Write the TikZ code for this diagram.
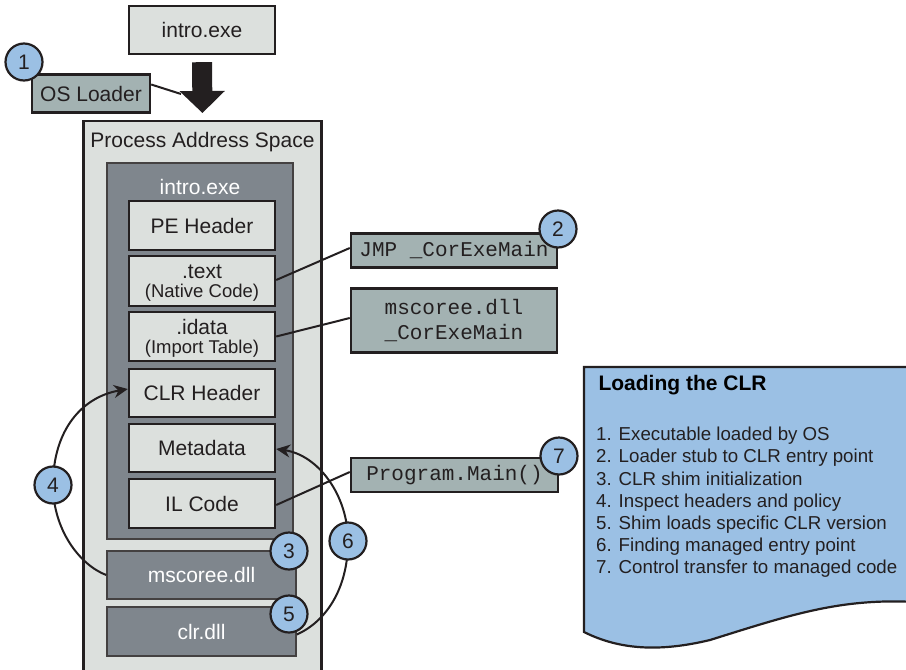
\documentclass[tikz,border=0pt]{standalone}
\usepackage{fontspec}
\setmainfont{Liberation Sans}
\newfontfamily\codefont{Liberation Mono}
\usetikzlibrary{arrows.meta}
\definecolor{lightbox}{RGB}{220,224,221}
\definecolor{tealbox}{RGB}{163,178,178}
\definecolor{darkbox}{RGB}{127,134,141}
\definecolor{bluec}{RGB}{155,192,228}
\definecolor{ink}{RGB}{35,31,32}
\newcommand\subnote{\fontsize{18.5}{20}\selectfont}
\newcommand\twoline[2]{\raisebox{-3pt}[\height][\depth]{\begin{tabular}{@{}c@{}}#1\\[-2pt]{\subnote #2}\end{tabular}}}
\tikzset{
  base/.style={draw=ink, line width=2.4pt, inner sep=0pt, text=ink,
    font=\fontsize{21}{21}\selectfont},
  lbox/.style={base, fill=lightbox, minimum width=146pt},
  tbox/.style={base, fill=tealbox, font=\codefont\fontsize{21}{25}\selectfont},
  dbox/.style={base, fill=darkbox, draw=ink!85, line width=1.6pt, text=white},
  numc/.style={circle, draw=ink, line width=2.2pt, fill=bluec, minimum size=37pt,
    inner sep=0pt, text=ink, font=\fontsize{21}{21}\selectfont},
  link/.style={draw=ink, line width=2pt},
  flow/.style={draw=ink, line width=2pt, -{Stealth[length=14pt,width=13pt]}},
  bigarrow/.style={draw=ink, line width=20pt, -{Triangle[width=44pt,length=22pt]}}
}
\begin{document}
\begin{tikzpicture}[x=1pt,y=-1pt]
\path[use as bounding box] (0,0) rectangle (906,670);
\clip (0,0) rectangle (906,670);

% executable and loader
\node[lbox, minimum height=48pt] (exe) at (202,30) {intro.exe};
\node[tbox, minimum width=118pt, minimum height=38pt,
  font=\fontsize{21}{21}\selectfont] (osl) at (91,93.5) {OS Loader};

% process address space
\node[base, fill=lightbox, minimum width=238pt, minimum height=570pt, anchor=north]
  (pas) at (202.5,120) {};
\node[text=ink, font=\fontsize{21}{21}\selectfont] (pastitle) at (202.5,142) {Process Address Space};

% image of intro.exe
\node[dbox, minimum width=186pt, minimum height=376pt] (img) at (200,351) {};
\node[text=white, font=\fontsize{21}{21}\selectfont] (imgtitle) at (200,187) {intro.exe};

\node[lbox, minimum height=49pt] (pe) at (202,225.5) {PE Header};
\node[lbox, minimum height=50pt] (txt) at (202,281) {\twoline{.text}{(Native Code)}};
\node[lbox, minimum height=49pt] (idata) at (202,336.5) {\twoline{.idata}{(Import Table)}};
\node[lbox, minimum height=48pt] (clrh) at (202,393) {CLR Header};
\node[lbox, minimum height=48pt] (meta) at (202,448) {Metadata};
\node[lbox, minimum height=49pt] (il) at (202,503.5) {IL Code};

% runtime modules
\node[dbox, minimum width=189pt, minimum height=48pt] (msc) at (201.5,575) {mscoree.dll};
\node[dbox, minimum width=189pt, minimum height=49pt] (clrdll) at (201.5,631.5) {clr.dll};

% stubs on the right
\node[tbox, minimum width=206pt, minimum height=34pt] (jmp) at (454,250.5) {JMP \_CorExeMain};
\node[tbox, minimum width=206pt, minimum height=64pt, align=center] (imp) at (454,320.5)
  {mscoree.dll\\\_CorExeMain};
\node[tbox, minimum width=207pt, minimum height=34pt] (pm) at (454.5,475) {Program.Main()};

% load arrow
\coordinate (arrowmid) at (181,94);
\draw[bigarrow, shorten <=7pt, shorten >=7pt] (exe.south) -- (pas.north);
\draw[link] ([yshift=9pt]osl.east) -- (arrowmid);

% connectors
\draw[link] ([yshift=1pt]txt.east) -- ([yshift=2.5pt]jmp.west);
\draw[link] (idata.east) -- ([yshift=2.5pt]imp.west);
\draw[link] ([yshift=-1.5pt]il.east) -- ([yshift=3pt]pm.west);

% curved flows
\draw[link] (msc.west) .. controls (80,565) and (53,530) .. (53,485);
\draw[flow] (53,485) .. controls (53,430) and (82,397) .. ([yshift=4pt]clrh.west);
\draw[link] ([yshift=-3pt]clrdll.east) .. controls (325,622) and (348,590) .. (348,541);
\draw[flow] (348,541) .. controls (348,495) and (318,455) .. ([yshift=-1pt]meta.east);

% numbered markers
\node[numc] (c1) at (24,62) {1};
\node[numc] (c2) at (558,229) {2};
\node[numc] (c3) at (289,551) {3};
\node[numc] (c4) at (53,485) {4};
\node[numc] (c5) at (289,614) {5};
\node[numc] (c6) at (348,541) {6};
\node[numc] (c7) at (559,456) {7};

% summary sheet
\path[draw=ink, line width=2.2pt, fill=bluec]
  (584,367) -- (915,367) -- (915,602)
  .. controls (840,598) and (790,615) .. (710,640)
  .. controls (660,652) and (620,650) .. (584,632) -- cycle;
\node[anchor=west, text=black, font=\bfseries\fontsize{21}{21}\selectfont] (sumtitle)
  at (595,385) {Loading the CLR};
\node[anchor=north west, align=left, inner sep=0pt, text=ink,
  font=\fontsize{18.7}{22.2}\selectfont] (sumlist) at (596,427)
  {1. Executable loaded by OS\\
   2. Loader stub to CLR entry point\\
   3. CLR shim initialization\\
   4. Inspect headers and policy\\
   5. Shim loads specific CLR version\\
   6. Finding managed entry point\\
   7. Control transfer to managed code};
\end{tikzpicture}
\end{document}
